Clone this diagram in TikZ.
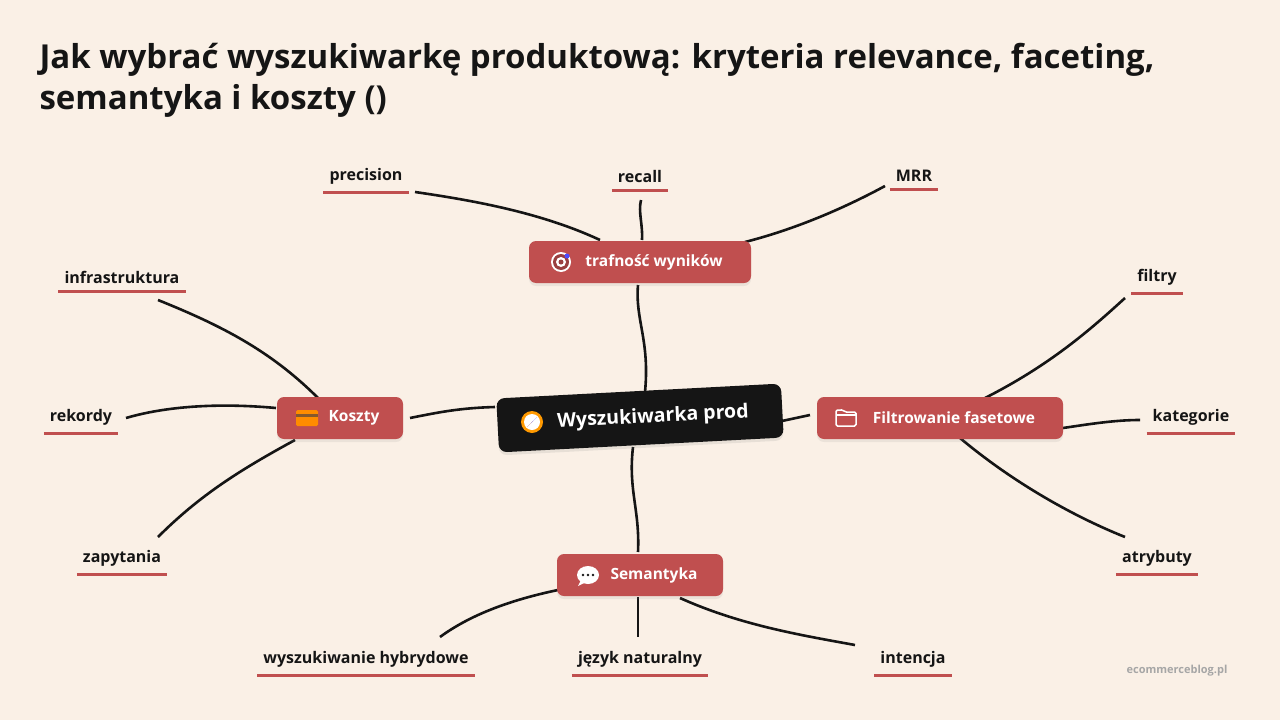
\documentclass[tikz,border=0pt]{standalone}
\usepackage{fontspec}
\setmainfont{Open Sans}
\usetikzlibrary{shadows}
\definecolor{bg}{HTML}{FAF0E6}
\definecolor{red}{HTML}{C04F4F}
\definecolor{ink}{HTML}{151515}
\begin{document}
\begin{tikzpicture}[x=1pt,y=-1pt,
  hub/.style={fill=red,rounded corners=7pt,text=white,font=\bfseries\fontsize{15.5}{18}\selectfont,minimum height=42pt,inner xsep=0pt,drop shadow={opacity=0.12,shadow xshift=0pt,shadow yshift=-3pt}},
  leaf/.style={font=\bfseries\fontsize{16}{18}\selectfont,text=ink,inner xsep=6pt,inner ysep=5pt},
  ul/.style={draw=red,line width=3pt},
  con/.style={draw=ink,line width=2.6pt}]
\fill[bg] (0,0) rectangle (1280,720);
\useasboundingbox (0,0) rectangle (1280,720);
\node[anchor=west,text=ink,font=\bfseries\fontsize{33}{41}\selectfont,align=left] (title) at (36,80) {Jak wybrać wyszukiwarkę produktową: kryteria relevance, faceting,\\semantyka i koszty ()};
\foreach \n/\x/\y in {c1/645/392, c2/495/407, c3/782/421, c4/633/447,
  t1/638/285, t2/600/240, t3/642/240, t4/745/242,
  p1/415/192, r1/641/200, m1/885/186,
  k1/410/418, k2/318/398, k3/276/408, k4/295/440,
  i1/158/300, re1/126/418, z1/158/537,
  f1/810/415, f2/985/398, f4/960/438,
  fi1/1125/298, ka1/1140/420, at1/1125/537,
  s1/638/552, s2/558/590, s3/638/597, s4/680/598,
  h1/440/637, j1/638/637, in1/855/645}{\coordinate (\n) at (\x,\y);}
\coordinate (f3) at (1063,428);
\draw[con] (c1) .. controls (650,340) and (635,320) .. (t1);
\draw[con] (c2) .. controls (460,408) and (440,412) .. (k1);
\draw[con] (c3) -- (f1);
\draw[con] (c4) .. controls (628,490) and (640,510) .. (s1);
\draw[con] (t2) .. controls (540,212) and (470,200) .. (p1);
\draw[con] (t3) .. controls (643,225) and (638,212) .. (r1);
\draw[con] (t4) .. controls (800,228) and (850,205) .. (m1);
\draw[con] (k2) .. controls (270,350) and (220,325) .. (i1);
\draw[con] (k3) .. controls (210,402) and (160,408) .. (re1);
\draw[con] (k4) .. controls (240,470) and (200,495) .. (z1);
\draw[con] (f2) .. controls (1050,365) and (1090,330) .. (fi1);
\draw[con] (f3) .. controls (1090,424) and (1115,420) .. (ka1);
\draw[con] (f4) .. controls (1010,480) and (1070,515) .. (at1);
\draw[con] (s2) .. controls (510,600) and (470,615) .. (h1);
\draw[con] (s3) .. controls (638,610) and (638,625) .. (j1);
\draw[con] (s4) .. controls (740,625) and (800,635) .. (in1);
\node[fill=ink,rounded corners=8pt,rotate=3,minimum width=285pt,minimum height=54pt,text=white,font=\bfseries\fontsize{19.5}{24}\selectfont,drop shadow={opacity=0.15,shadow xshift=0pt,shadow yshift=-3pt}] (c) at (640,418) {\hspace{26pt}Wyszukiwarka prod};
\begin{scope}[shift={(532,422)}]
\fill[orange!80!yellow] (0,0) circle (11); \fill[white] (0,0) circle (8);
\fill[red!90!black] (-5,5)--(1,-1)--(-1,1)--cycle; \fill[blue!60] (5,-5)--(1,-1)--(-1,1)--cycle;
\end{scope}
\node[hub,minimum width=222pt] (t) at (640,262) {\hspace{28pt}trafność wyników};
\node[hub,minimum width=126pt] (k) at (340,418) {\hspace{28pt}Koszty};
\node[hub,minimum width=246pt] (f) at (940,418) {\hspace{28pt}Filtrowanie fasetowe};
\node[hub,minimum width=166pt] (s) at (640,575) {\hspace{28pt}Semantyka};
\begin{scope}[shift={(561,262)}]\fill[white] (0,0) circle (10);\fill[red!80!black] (0,0) circle (8);\fill[white] (0,0) circle (5);\fill[red!80!black] (0,0) circle (2.5);\fill[blue!70] (6,-6) circle (2.5);\end{scope}
\begin{scope}[shift={(307,418)}]\fill[orange!90!yellow,rounded corners=1.5pt] (-11,-8) rectangle (11,8);\fill[brown!70!black] (-11,-4) rectangle (11,-1);\end{scope}
\begin{scope}[shift={(846,418)}]\draw[white,line width=1.5pt,rounded corners=1.5pt] (-10,-8)--(-3,-8)--(-1,-6)--(10,-6)--(10,8)--(-10,8)--cycle;\draw[white,line width=1.5pt](-10,-3)--(10,-3);\end{scope}
\begin{scope}[shift={(588,575)}]\fill[white] (0,0) ellipse (11 and 9);\fill[white] (-7,5)--(-10,11)--(-2,7)--cycle;\fill[ink] (-5,0) circle (1.3) (0,0) circle (1.3) (5,0) circle (1.3);\end{scope}
\foreach \n/\x/\y/\t in {p/366/176/precision, r/640/176/recall, m/914/176/MRR, i/122/277/infrastruktura, re/81/417/rekordy, z/122/558/zapytania, fi/1157/277/filtry, ka/1191/417/kategorie, at/1157/558/atrybuty, h/366/659/wyszukiwanie hybrydowe, j/640/659/język naturalny, in/913/659/intencja}{
  \node[leaf] (\n) at (\x,\y) {\t};
  \draw[ul] ([yshift=-3pt]\n.south west) -- ([yshift=-3pt]\n.south east);
}
\node[text=black!35,font=\bfseries\fontsize{11}{13}\selectfont] (w) at (1177,671) {ecommerceblog.pl};
\end{tikzpicture}
\end{document}
